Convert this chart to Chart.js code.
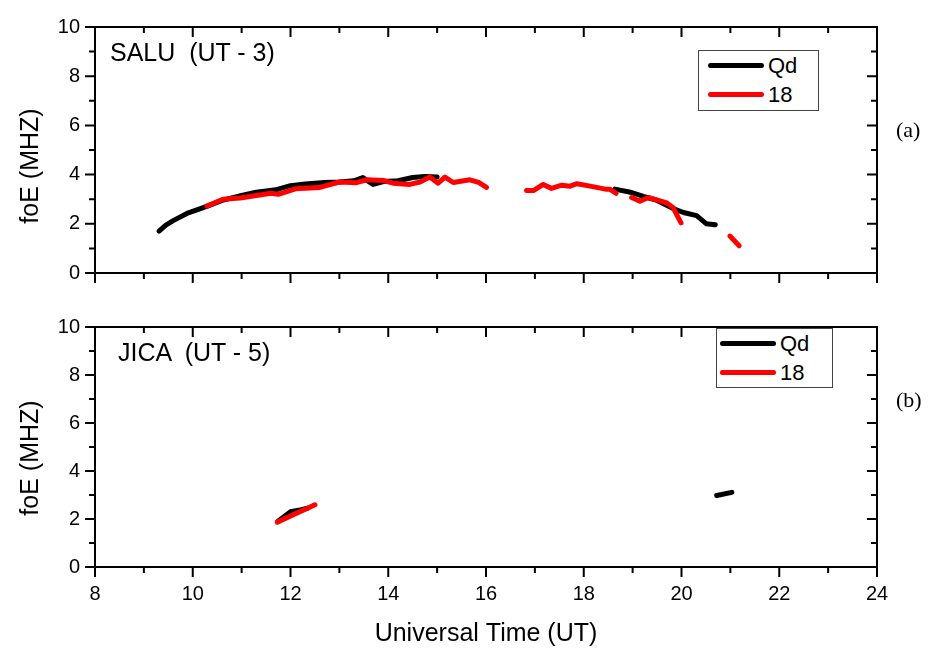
<!DOCTYPE html>
<html>
<head>
<meta charset="utf-8">
<script src="https://cdn.jsdelivr.net/npm/chart.js@4"></script>
<style>
  body { margin: 0; background: #fff; width: 934px; height: 650px; position: relative; overflow: hidden;
         font-family: "Liberation Sans", Arial, sans-serif; color: #000; }
  canvas { position: absolute; left: 0; }
  #topChart { top: 0; }
  #bottomChart { top: 300px; }
  .ytitle { position: absolute; left: 29px; font-size: 25px; white-space: nowrap;
            transform: translate(-50%, -50%) rotate(-90deg); }
  .station { position: absolute; font-size: 25px; white-space: pre; line-height: 25px; }
  .panel { position: absolute; left: 896px; font-family: "Liberation Serif", "Times New Roman", serif;
           font-size: 22px; line-height: 22px; }
  .legend { position: absolute; border: 1px solid #444; background: #fff; box-sizing: border-box; }
  .legend .row { position: absolute; left: 0; height: 0; }
  .legend .swatch { position: absolute; width: 56px; height: 5px; border-radius: 3px; top: -3px; }
  .legend .label { position: absolute; font-size: 22px; line-height: 22px; top: -11px; }
</style>
</head>
<body>
<canvas id="topChart" width="934" height="300"></canvas>
<canvas id="bottomChart" width="934" height="350"></canvas>

<div class="ytitle" style="top:166px">foE (MHZ)</div>
<div class="ytitle" style="top:458px">foE (MHZ)</div>
<div class="station" style="left:110px; top:40px">SALU  (UT - 3)</div>
<div class="station" style="left:118px; top:340px">JICA  (UT - 5)</div>
<div class="panel" style="top:119px">(a)</div>
<div class="panel" style="top:389px">(b)</div>

<div class="legend" id="legendTop" style="left:698px; top:50px; width:121px; height:61px"></div>
<div class="legend" id="legendBottom" style="left:716px; top:328px; width:117px; height:60px"></div>

<script>
const seriesNames = ['Qd', '18'];
const seriesColors = ['#000000', '#ff0000'];

// SALU (a): null marks a gap in the record
const saluQdTime = [9.31, 9.45, 9.6, 9.88, 10.1, 10.3, 10.6, 11.0, 11.3, 11.7, 12.0, 12.3, 12.7, 13.0, 13.3, 13.48, 13.69, 13.9, 14.2, 14.5, 14.75, 15.0, 16.8,
                    18.64, 18.98, 19.22, 19.5, 19.83, 20.04, 20.31, 20.51, 20.69];
const saluQdFoe  = [1.70, 1.95, 2.13, 2.42, 2.58, 2.72, 2.95, 3.15, 3.28, 3.38, 3.55, 3.62, 3.68, 3.70, 3.75, 3.88, 3.60, 3.72, 3.75, 3.88, 3.92, 3.90, null,
                    3.41, 3.27, 3.11, 2.95, 2.62, 2.46, 2.33, 2.00, 1.96];
const salu18Time = [10.29, 10.62, 10.97, 11.3, 11.6, 11.75, 12.1, 12.6, 13.0, 13.35, 13.56, 13.9, 14.1, 14.44, 14.65, 14.85, 15.02, 15.16, 15.33, 15.67, 15.85, 16.01, 16.4,
                    16.83, 16.97, 17.17, 17.34, 17.55, 17.72, 17.86, 18.13, 18.47, 18.54, 18.66, 18.8,
                    18.98, 19.15, 19.32, 19.70, 19.83, 19.99, 20.5, 20.99, 21.18];
const salu18Foe  = [2.72, 3.00, 3.05, 3.15, 3.24, 3.20, 3.42, 3.48, 3.70, 3.67, 3.79, 3.76, 3.65, 3.60, 3.70, 3.90, 3.65, 3.90, 3.68, 3.79, 3.68, 3.48, null,
                    3.35, 3.35, 3.60, 3.44, 3.57, 3.53, 3.63, 3.53, 3.40, 3.40, 3.24, null,
                    3.07, 2.92, 3.07, 2.85, 2.65, 2.04, null, 1.50, 1.11];

// JICA (b)
const jicaQdTime = [11.75, 12.0, 12.2, 12.35, 16.5, 20.72, 21.03];
const jicaQdFoe  = [1.92, 2.30, 2.38, 2.45, null, 2.98, 3.11];
const jica18Time = [11.73, 12.5];
const jica18Foe  = [1.87, 2.59];

const xRange = [8, 24];
const yRange = [0, 10];

const toPoints = (t, v) => t.map((x, i) => ({ x: x, y: v[i] }));

// Origin style frame: outward ticks left/bottom, inward ticks top/right, minor ticks every unit
const framePlugin = {
  id: 'frame',
  afterDraw(chart) {
    const { ctx, chartArea: a, scales: { x, y } } = chart;
    ctx.save();
    ctx.strokeStyle = '#000';
    ctx.lineWidth = 2;
    ctx.strokeRect(a.left, a.top, a.right - a.left, a.bottom - a.top);
    ctx.beginPath();
    for (let v = x.min; v <= x.max; v++) {
      const px = x.getPixelForValue(v);
      const len = v % 2 === 0 ? 10 : 6;
      ctx.moveTo(px, a.bottom); ctx.lineTo(px, a.bottom + len);
      ctx.moveTo(px, a.top); ctx.lineTo(px, a.top + len);
    }
    for (let v = y.min; v <= y.max; v++) {
      const py = y.getPixelForValue(v);
      const len = v % 2 === 0 ? 10 : 6;
      ctx.moveTo(a.left, py); ctx.lineTo(a.left - len, py);
      ctx.moveTo(a.right, py); ctx.lineTo(a.right - len, py);
    }
    ctx.stroke();
    ctx.restore();
  }
};

function makeDatasets(qdT, qdV, dT, dV) {
  const common = { borderWidth: 5, pointRadius: 0, tension: 0, fill: false, spanGaps: false,
                   borderCapStyle: 'round', borderJoinStyle: 'round' };
  return [
    Object.assign({ label: seriesNames[0], data: toPoints(qdT, qdV), borderColor: seriesColors[0], order: 2 }, common),
    Object.assign({ label: seriesNames[1], data: toPoints(dT, dV), borderColor: seriesColors[1], order: 1 }, common)
  ];
}

function makeChart(id, datasets, showX, padTop, xHeight) {
  return new Chart(document.getElementById(id), {
    type: 'line',
    data: { datasets: datasets },
    options: {
      responsive: false,
      animation: false,
      layout: { padding: { top: padTop, right: 57, left: 0, bottom: 0 } },
      plugins: { legend: { display: false }, tooltip: { enabled: false } },
      scales: {
        x: {
          type: 'linear', min: xRange[0], max: xRange[1],
          grid: { display: false, drawTicks: false },
          border: { display: false },
          ticks: { display: showX, stepSize: 2, padding: 15, color: '#000',
                   font: { family: 'Liberation Sans', size: 20 } },
          title: { display: showX, text: 'Universal Time (UT)', color: '#000',
                   font: { family: 'Liberation Sans', size: 25 }, padding: { top: 0, bottom: 1 } },
          afterFit(s) { s.height = xHeight; }
        },
        y: {
          min: yRange[0], max: yRange[1],
          grid: { display: false, drawTicks: false },
          border: { display: false },
          ticks: { stepSize: 2, padding: 15, color: '#000',
                   font: { family: 'Liberation Sans', size: 20 } },
          afterFit(s) { s.width = 95; }
        }
      }
    },
    plugins: [framePlugin]
  });
}

makeChart('topChart', makeDatasets(saluQdTime, saluQdFoe, salu18Time, salu18Foe), false, 21, 24);
makeChart('bottomChart', makeDatasets(jicaQdTime, jicaQdFoe, jica18Time, jica18Foe), true, 12, 83);

// legends
function buildLegend(id, rows, lineLeft, textLeft) {
  const box = document.getElementById(id);
  seriesNames.forEach((name, i) => {
    const row = document.createElement('div');
    row.className = 'row';
    row.style.top = rows[i] + 'px';
    row.innerHTML = '<div class="swatch" style="left:' + lineLeft + 'px;background:' + seriesColors[i] + '"></div>' +
                    '<div class="label" style="left:' + textLeft + 'px">' + name + '</div>';
    box.appendChild(row);
  });
}
buildLegend('legendTop', [15, 44], 9, 69);
buildLegend('legendBottom', [15, 44], 3, 63);
</script>
</body>
</html>
